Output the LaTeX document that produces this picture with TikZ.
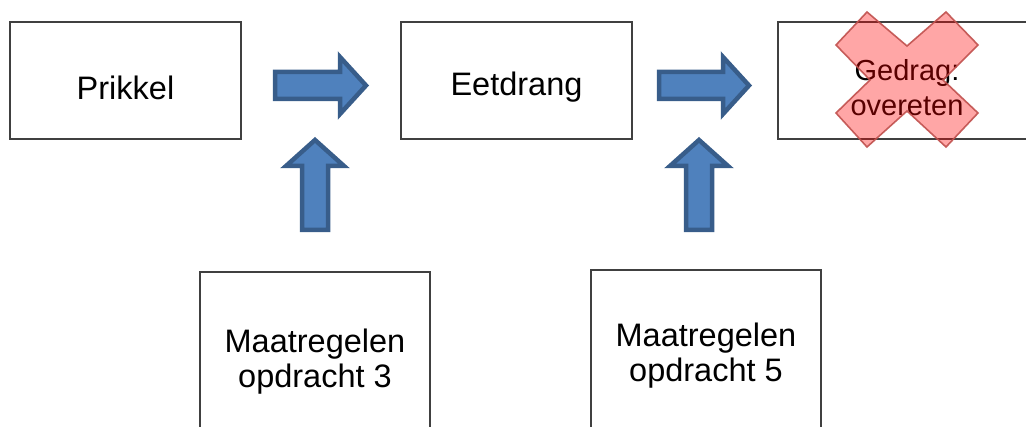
\documentclass[tikz,border=0pt]{standalone}
\usepackage{fontspec}
\setmainfont{Liberation Sans}
\begin{document}
\begin{tikzpicture}[x=1pt,y=-1pt,
  box/.style={draw=black!75, line width=1.6pt, fill=white, inner sep=0pt},
  label text/.style={align=center, font=\fontsize{32.5}{35}\selectfont, inner sep=0pt},
  small text/.style={align=center, font=\fontsize{29}{35}\selectfont, inner sep=0pt},
  wide/.style={minimum width=231pt, minimum height=117pt},
  tall/.style={minimum width=230pt},
  blockarrow/.style={draw={rgb,255:red,56;green,93;blue,138}, line width=4.5pt,
    fill={rgb,255:red,79;green,129;blue,189}, line join=miter},
  cross/.style={draw={rgb,255:red,192;green,80;blue,77}, line width=1.6pt,
    fill=red, fill opacity=0.35, draw opacity=0.9}]
\useasboundingbox (0,0) rectangle (1026,427);
\clip (0,0) rectangle (1026,427);

% top row
\node[box,wide] (prikkel) at (125.5,80.5) {};
\node[box,wide] (eetdrang) at (516.5,80.5) {};
\node[box,minimum width=258pt,minimum height=117pt] (gedrag) at (907,80.5) {};
\node[label text] (prikkel-t) at ([yshift=-7pt]prikkel.center) {Prikkel};
\node[label text] (eetdrang-t) at ([yshift=-7pt]eetdrang.center) {Eetdrang};
\node[small text] (gedrag-t) at ([yshift=-7pt]gedrag.center) {Gedrag:\\overeten};

% bottom row, cut off by the page edge
\node[box,tall,minimum height=176pt] (m3) at (315,360) {};
\node[box,tall,minimum height=168pt] (m5) at (706,354) {};
\node[label text] (m3-t) at ([yshift=-2pt]m3.center) {Maatregelen\\opdracht 3};
\node[label text] (m5-t) at ([yshift=-2pt]m5.center) {Maatregelen\\opdracht 5};

% block arrows along the row
\draw[blockarrow] (275,72) -- (340,72) -- (340,57) -- (366,85.5) -- (340,114)
  -- (340,99) -- (275,99) -- cycle;
\draw[blockarrow] (659,72) -- (723,72) -- (723,57) -- (749,85.5) -- (723,114)
  -- (723,99) -- (659,99) -- cycle;

% block arrows pointing up
\draw[blockarrow] (302,230) -- (302,166) -- (286,166) -- (315,140) -- (344,166)
  -- (328,166) -- (328,230) -- cycle;
\draw[blockarrow] (686,230) -- (686,166) -- (670,166) -- (699,140) -- (728,166)
  -- (712,166) -- (712,230) -- cycle;

% cross over the behaviour box
\draw[cross] (867,12) -- (907,46) -- (946,12) -- (978,45) -- (943,80) -- (978,113)
  -- (946,147) -- (907,111) -- (867,147) -- (836,113) -- (870,80) -- (836,45) -- cycle;
\end{tikzpicture}
\end{document}
